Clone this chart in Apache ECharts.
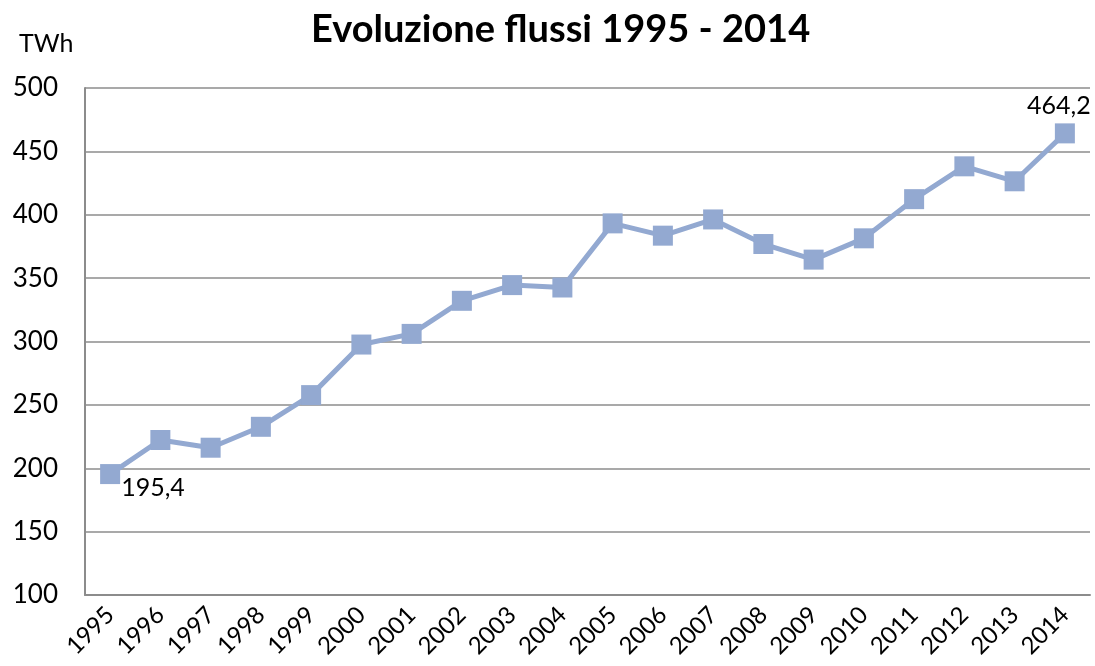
<!DOCTYPE html>
<html>
<head>
<meta charset="utf-8">
<script src="https://cdn.jsdelivr.net/npm/echarts@6/dist/echarts.min.js"></script>
<style>
  html, body { margin: 0; padding: 0; background: #fff; }
  #flussiChart { width: 1095px; height: 666px; }
</style>
</head>
<body>
<div id="flussiChart"></div>
<script>
// dati
const years = ["1995", "1996", "1997", "1998", "1999", "2000", "2001", "2002", "2003", "2004",
  "2005", "2006", "2007", "2008", "2009", "2010", "2011", "2012", "2013", "2014"];
const flussi = [195.4, 222.3, 216.2, 232.7, 257.7, 297.6, 306, 332.1, 344.5, 342.6,
  393.2, 383.5, 396.3, 376.9, 364.6, 381.4, 412.3, 438.2, 426.4, 464.2];
const yTicks = { min: 100, max: 500, step: 50 };

const font = "Lato, 'Open Sans', sans-serif";
const lineColor = "#93A9D1";

let chart = echarts.init(document.getElementById("flussiChart"));

const seriesData = flussi.map((v, i) => {
  if (i === 0) {
    return { value: v, label: { show: true, position: "right", offset: [-4, 14] } };
  }
  if (i === flussi.length - 1) {
    return { value: v, label: { show: true, position: "top", offset: [-6, 0] } };
  }
  return v;
});

let option = {
  animation: false,
  title: [
    {
      text: "Evoluzione flussi 1995 - 2014",
      left: 306,
      top: 6,
      textStyle: { fontFamily: font, fontSize: 38, fontWeight: "bold", color: "#000" },
    },
    {
      text: "TWh",
      left: 14,
      top: 26,
      textStyle: { fontFamily: font, fontSize: 25, fontWeight: "normal", color: "#000" },
    },
  ],
  grid: { left: 85, right: 5, top: 88, bottom: 71 },
  xAxis: {
    type: "category",
    data: years,
    boundaryGap: true,
    axisLine: { lineStyle: { color: "#8c8c8c", width: 2 } },
    axisTick: { show: false },
    axisLabel: {
      rotate: 45,
      margin: 16,
      color: "#000",
      fontFamily: font,
      fontSize: 24,
    },
  },
  yAxis: {
    type: "value",
    min: yTicks.min,
    max: yTicks.max,
    interval: yTicks.step,
    axisLine: { show: true, lineStyle: { color: "#8c8c8c", width: 2 } },
    axisTick: { show: false },
    splitLine: { lineStyle: { color: "#8c8c8c", width: 1.5 } },
    axisLabel: {
      margin: 27,
      color: "#000",
      fontFamily: font,
      fontSize: 26,
    },
  },
  series: [
    {
      type: "line",
      data: seriesData,
      symbol: "rect",
      symbolSize: 20,
      lineStyle: { color: lineColor, width: 5 },
      itemStyle: { color: lineColor },
      label: {
        show: false,
        color: "#000",
        fontFamily: font,
        fontSize: 25,
        formatter: (p) => String(p.value).replace(".", ","),
      },
    },
  ],
};

chart.setOption(option);
</script>
</body>
</html>
